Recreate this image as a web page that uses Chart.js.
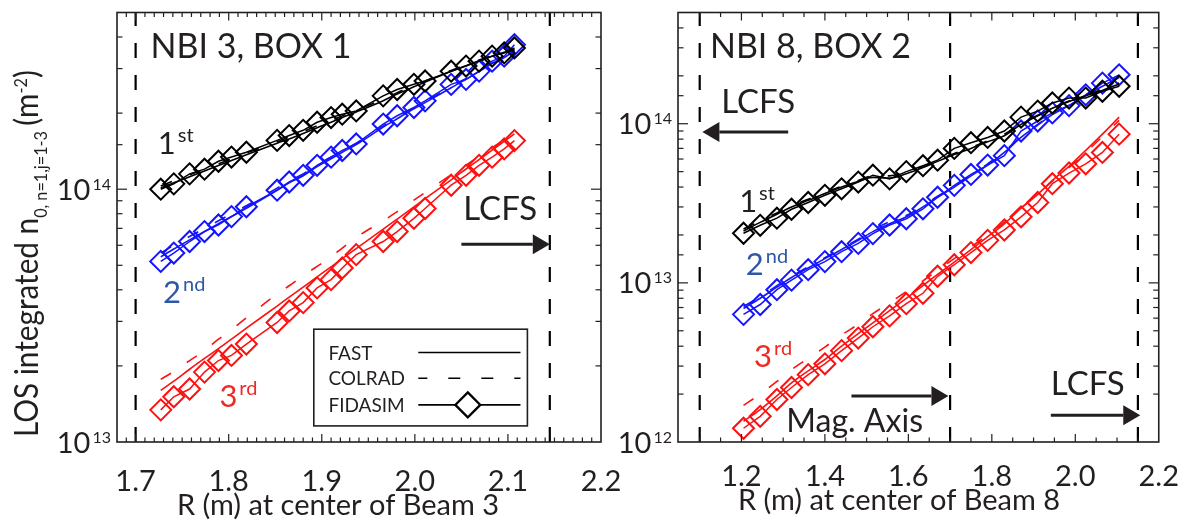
<!DOCTYPE html>
<html><head><meta charset="utf-8">
<script src="https://cdn.jsdelivr.net/npm/chart.js@4.4.1/dist/chart.umd.min.js"></script>
<style>
html,body{margin:0;padding:0;background:#fff;}
#wrap{position:relative;width:1188px;height:522px;overflow:hidden;background:#fff;}
canvas{position:absolute;top:0;}
#c1{left:0;} #c2{left:600px;}
</style></head><body>
<div id="wrap"><canvas id="c1" width="640" height="522"></canvas><canvas id="c2" width="588" height="522"></canvas></div>
<script>
const FONT = 'Lato, "Open Sans", sans-serif';
const INK = '#231f20';

// ---------- Left panel: NBI 3, BOX 1 ----------
const R3 = [1.727, 1.741, 1.758, 1.774, 1.789, 1.803, 1.819, 1.852, 1.865, 1.880, 1.895, 1.910, 1.922, 1.937, 1.966, 1.981, 1.999, 2.011, 2.039, 2.055, 2.069, 2.083, 2.096, 2.107];
const fida3_1st = [1.00e14, 1.05e14, 1.15e14, 1.20e14, 1.29e14, 1.34e14, 1.40e14, 1.56e14, 1.63e14, 1.71e14, 1.84e14, 1.92e14, 1.98e14, 2.04e14, 2.34e14, 2.48e14, 2.60e14, 2.68e14, 2.93e14, 3.07e14, 3.21e14, 3.36e14, 3.46e14, 3.62e14];
const fast3_1st = [1.01e14, 1.06e14, 1.12e14, 1.18e14, 1.24e14, 1.30e14, 1.37e14, 1.52e14, 1.58e14, 1.66e14, 1.75e14, 1.84e14, 1.92e14, 2.02e14, 2.24e14, 2.38e14, 2.54e14, 2.65e14, 2.93e14, 3.08e14, 3.22e14, 3.36e14, 3.48e14, 3.56e14];
const colrad3_1st = [1.03e14, 1.08e14, 1.14e14, 1.20e14, 1.26e14, 1.32e14, 1.39e14, 1.54e14, 1.61e14, 1.69e14, 1.78e14, 1.87e14, 1.95e14, 2.05e14, 2.27e14, 2.41e14, 2.57e14, 2.68e14, 2.95e14, 3.10e14, 3.24e14, 3.38e14, 3.50e14, 3.58e14];
const fida3_2nd = [5.18e13, 5.59e13, 6.21e13, 6.80e13, 7.22e13, 7.79e13, 8.52e13, 9.91e13, 1.068e14, 1.135e14, 1.243e14, 1.339e14, 1.423e14, 1.510e14, 1.810e14, 1.952e14, 2.105e14, 2.236e14, 2.598e14, 2.718e14, 2.932e14, 3.21e14, 3.358e14, 3.73e14];
const fast3_2nd = [5.4e13, 5.8e13, 6.3e13, 6.8e13, 7.3e13, 7.8e13, 8.4e13, 9.9e13, 1.06e14, 1.13e14, 1.23e14, 1.32e14, 1.40e14, 1.50e14, 1.76e14, 1.90e14, 2.08e14, 2.20e14, 2.52e14, 2.72e14, 2.92e14, 3.14e14, 3.32e14, 3.52e14];
const colrad3_2nd = [5.6e13, 6.0e13, 6.5e13, 7.0e13, 7.5e13, 8.0e13, 8.6e13, 1.01e14, 1.08e14, 1.15e14, 1.25e14, 1.34e14, 1.42e14, 1.52e14, 1.78e14, 1.92e14, 2.10e14, 2.22e14, 2.54e14, 2.74e14, 2.94e14, 3.16e14, 3.34e14, 3.55e14];
const fida3_3rd = [1.34e13, 1.51e13, 1.62e13, 1.89e13, 2.10e13, 2.20e13, 2.44e13, 2.97e13, 3.30e13, 3.56e13, 4.07e13, 4.39e13, 4.88e13, 5.51e13, 6.21e13, 6.80e13, 7.67e13, 8.39e13, 1.037e14, 1.135e14, 1.243e14, 1.339e14, 1.443e14, 1.557e14];
const fast3_3rd = [1.60e13, 1.74e13, 1.94e13, 2.14e13, 2.34e13, 2.55e13, 2.82e13, 3.45e13, 3.74e13, 4.10e13, 4.50e13, 4.93e13, 5.31e13, 5.82e13, 6.95e13, 7.62e13, 8.51e13, 9.17e13, 1.089e14, 1.202e14, 1.309e14, 1.428e14, 1.546e14, 1.655e14];
const colrad3_3rd = [1.77e13, 1.90e13, 2.10e13, 2.30e13, 2.55e13, 2.78e13, 3.10e13, 3.85e13, 4.15e13, 4.55e13, 4.95e13, 5.40e13, 5.85e13, 6.45e13, 7.50e13, 8.15e13, 9.05e13, 9.70e13, 1.14e14, 1.245e14, 1.35e14, 1.46e14, 1.57e14, 1.67e14];
const vlines3 = [1.70, 2.145];
const xLabels3 = ['1.7', '1.8', '1.9', '2.0', '2.1', '2.2'];
const yExp3 = [13, 14];

// ---------- Right panel: NBI 8, BOX 2 ----------
const R8 = [1.205, 1.245, 1.285, 1.32, 1.36, 1.40, 1.44, 1.48, 1.515, 1.555, 1.595, 1.635, 1.67, 1.71, 1.75, 1.79, 1.83, 1.87, 1.91, 1.945, 1.985, 2.025, 2.065, 2.105];
const fida8_1st = [2.05e13, 2.3e13, 2.55e13, 2.9e13, 3.2e13, 3.55e13, 3.9e13, 4.3e13, 4.75e13, 4.5e13, 5.0e13, 5.45e13, 5.9e13, 7.0e13, 7.6e13, 8.2e13, 9.0e13, 1.1e14, 1.2e14, 1.35e14, 1.45e14, 1.45e14, 1.6e14, 1.72e14];
const fast8_1st = [2.12e13, 2.4e13, 2.7e13, 3.0e13, 3.3e13, 3.65e13, 4.0e13, 4.35e13, 4.6e13, 4.55e13, 4.85e13, 5.3e13, 5.8e13, 6.4e13, 7.0e13, 7.7e13, 8.4e13, 9.9e13, 1.12e14, 1.25e14, 1.38e14, 1.5e14, 1.62e14, 1.78e14];
const colrad8_1st = [2.18e13, 2.45e13, 2.75e13, 3.05e13, 3.35e13, 3.7e13, 4.05e13, 4.4e13, 4.7e13, 4.7e13, 5.0e13, 5.4e13, 5.9e13, 6.5e13, 7.1e13, 7.8e13, 8.6e13, 1.0e14, 1.13e14, 1.26e14, 1.39e14, 1.52e14, 1.64e14, 1.8e14];
const fida8_2nd = [6.34e12, 7.31e12, 9.06e12, 1.04e13, 1.21e13, 1.36e13, 1.57e13, 1.77e13, 2.04e13, 2.31e13, 2.53e13, 2.92e13, 3.45e13, 4.1e13, 4.8e13, 5.5e13, 6.3e13, 9.0e13, 1.04e14, 1.17e14, 1.3e14, 1.52e14, 1.8e14, 2.03e14];
const fast8_2nd = [6.9e12, 8.0e12, 9.4e12, 1.08e13, 1.24e13, 1.42e13, 1.62e13, 1.85e13, 2.1e13, 2.35e13, 2.6e13, 3.0e13, 3.45e13, 4.0e13, 4.7e13, 5.5e13, 6.6e13, 8.2e13, 9.8e13, 1.14e14, 1.3e14, 1.5e14, 1.72e14, 1.95e14];
const colrad8_2nd = [7.1e12, 8.2e12, 9.6e12, 1.1e13, 1.26e13, 1.44e13, 1.65e13, 1.88e13, 2.15e13, 2.42e13, 2.65e13, 3.05e13, 3.5e13, 4.05e13, 4.75e13, 5.6e13, 6.7e13, 8.3e13, 9.9e13, 1.15e14, 1.31e14, 1.52e14, 1.75e14, 1.98e14];
const fida8_3rd = [1.22e12, 1.45e12, 1.85e12, 2.2e12, 2.65e12, 3.1e12, 3.75e12, 4.5e12, 5.3e12, 6.2e12, 7.4e12, 8.6e12, 1.1e13, 1.3e13, 1.55e13, 1.85e13, 2.15e13, 2.6e13, 3.2e13, 4.2e13, 4.9e13, 5.6e13, 6.6e13, 8.6e13];
const fast8_3rd = [1.35e12, 1.6e12, 1.95e12, 2.35e12, 2.8e12, 3.3e12, 4.0e12, 4.8e12, 5.6e12, 6.7e12, 8.0e12, 9.6e12, 1.13e13, 1.35e13, 1.62e13, 1.95e13, 2.35e13, 2.95e13, 3.6e13, 4.4e13, 5.4e13, 6.8e13, 8.6e13, 1.1e14];
const colrad8_3rd = [1.7e12, 2.0e12, 2.4e12, 2.85e12, 3.35e12, 3.95e12, 4.7e12, 5.5e12, 6.4e12, 7.5e12, 8.8e12, 1.03e13, 1.2e13, 1.42e13, 1.68e13, 2.0e13, 2.4e13, 2.95e13, 3.6e13, 4.35e13, 5.3e13, 6.6e13, 8.3e13, 1.05e14];
const vlines8 = [1.10, 1.70, 2.15];
const xLabels8 = ['1.2', '1.4', '1.6', '1.8', '2.0', '2.2'];
const yExp8 = [12, 13, 14];

const orderNames = [['1', 'st'], ['2', 'nd'], ['3', 'rd']];
const seriesColors = ['#000000', '#1414ff', '#ff1010'];
const labelColors = [INK, '#2e58a6', '#ee2a24'];
const legendNames = ['FAST', 'COLRAD', 'FIDASIM'];

const DASH_MODEL = [12, 19];

function xy(R, v) { return R.map((r, i) => ({x: r, y: v[i]})); }

function buildDatasets(R, groups, vlines, ymin, ymax) {
  const ds = [];
  groups.forEach((g, k) => {
    const c = seriesColors[k];
    ds.push({data: xy(R, g.fast), borderColor: c, borderWidth: 1.6, showLine: true, pointRadius: 0, cubicInterpolationMode: 'monotone'});
    ds.push({data: xy(R, g.colrad), borderColor: c, borderWidth: 1.6, borderDash: DASH_MODEL, showLine: true, pointRadius: 0, cubicInterpolationMode: 'monotone'});
    ds.push({data: xy(R, g.fida), borderColor: c, borderWidth: 1.5, showLine: true, pointStyle: 'rectRot', pointRadius: 10.5, pointBorderWidth: 2, pointBorderColor: c, pointBackgroundColor: 'rgba(0,0,0,0)'});
  });
  vlines.forEach(xv => {
    ds.push({data: [{x: xv, y: ymin}, {x: xv, y: ymax}], borderColor: '#000', borderWidth: 2.2, borderDash: [15, 17], showLine: true, pointRadius: 0});
  });
  return ds;
}

function supText(ctx, base, sup, x, y, size, supSize, raise, color) {
  ctx.fillStyle = color;
  ctx.textBaseline = 'alphabetic';
  ctx.textAlign = 'left';
  ctx.font = size + 'px ' + FONT;
  ctx.fillText(base, x, y);
  const w = ctx.measureText(base).width;
  ctx.font = supSize + 'px ' + FONT;
  ctx.fillText(sup, x + w + 2, y - raise);
}

function arrow(ctx, x0, x1, y) {
  const dir = x1 > x0 ? 1 : -1;
  const head = 17, half = 10;
  ctx.strokeStyle = INK; ctx.fillStyle = INK; ctx.lineWidth = 3;
  ctx.beginPath(); ctx.moveTo(x0, y); ctx.lineTo(x1 - dir * head, y); ctx.stroke();
  ctx.beginPath(); ctx.moveTo(x1, y); ctx.lineTo(x1 - dir * head, y - half); ctx.lineTo(x1 - dir * head, y + half); ctx.closePath(); ctx.fill();
}

function panelPlugin(cfg) {
  return {
    id: 'panel' + cfg.id,
    afterDraw(chart) {
      const ctx = chart.ctx, ca = chart.chartArea, xs = chart.scales.x, ys = chart.scales.y;
      ctx.save();
      ctx.strokeStyle = INK; ctx.lineWidth = 1.2;
      const ln = (a, b, c, d) => { ctx.beginPath(); ctx.moveTo(a, b); ctx.lineTo(c, d); ctx.stroke(); };
      xs.ticks.forEach(t => {
        const px = xs.getPixelForValue(t.value);
        if (px < ca.left + 1 || px > ca.right - 1) return;
        const major = cfg.xLabels.includes(t.value.toFixed(1)) && Math.abs(t.value * 10 - Math.round(t.value * 10)) < 1e-6;
        const L = major ? 8 : 4.5;
        ln(px, ca.bottom, px, ca.bottom - L);
        ln(px, ca.top, px, ca.top + L);
      });
      ys.ticks.forEach(t => {
        const py = ys.getPixelForValue(t.value);
        if (py < ca.top + 1 || py > ca.bottom - 1) return;
        const e = Math.log10(t.value);
        const major = Math.abs(e - Math.round(e)) < 1e-9;
        const L = major ? 10 : 5.5;
        ln(ca.left, py, ca.left + L, py);
        ln(ca.right, py, ca.right - L, py);
      });
      ctx.lineWidth = 1.6;
      ctx.strokeRect(ca.left, ca.top, ca.right - ca.left, ca.bottom - ca.top);
      // y tick labels with superscript exponents
      ys.ticks.forEach(t => {
        const e = Math.log10(t.value);
        const ex = Math.round(e);
        if (Math.abs(e - ex) > 1e-9 || !cfg.yExp.includes(ex)) return;
        const py = ys.getPixelForValue(t.value);
        ctx.font = '29px ' + FONT; const wb = ctx.measureText('10').width;
        ctx.font = '16px ' + FONT; const ws = ctx.measureText(String(ex)).width;
        const x0 = ca.left - 6 - ws - wb - 2;
        supText(ctx, '10', String(ex), x0, py + 10.5, 29, 16, 10, INK);
      });
      // x axis title
      ctx.fillStyle = INK; ctx.font = '29px ' + FONT; ctx.textAlign = 'center'; ctx.textBaseline = 'alphabetic';
      ctx.fillText(cfg.xTitle, ca.left + 221, cfg.xTitleBase);
      // y axis title (rotated, with sub/superscripts), slightly condensed
      if (cfg.yTitle) {
        ctx.save();
        ctx.translate(38, 437);
        ctx.rotate(-Math.PI / 2);
        ctx.scale(0.9, 1);
        ctx.textAlign = 'left'; ctx.textBaseline = 'alphabetic'; ctx.fillStyle = INK;
        let u = 0;
        cfg.yTitle.forEach(p => {
          ctx.font = p.size + 'px ' + FONT;
          ctx.fillText(p.t, u, p.dy);
          u += ctx.measureText(p.t).width + (p.gap || 0);
        });
        ctx.restore();
      }
      ctx.textAlign = 'left'; ctx.textBaseline = 'alphabetic';
      cfg.texts.forEach(tx => {
        ctx.fillStyle = INK; ctx.font = tx.size + 'px ' + FONT;
        ctx.fillText(tx.t, xs.getPixelForValue(tx.x), ys.getPixelForValue(tx.y));
      });
      cfg.arrows.forEach(a => arrow(ctx, xs.getPixelForValue(a.x0), xs.getPixelForValue(a.x1), ys.getPixelForValue(a.y)));
      cfg.orders.forEach((o, k) => {
        supText(ctx, orderNames[k][0], orderNames[k][1], xs.getPixelForValue(o.x), ys.getPixelForValue(o.y), 31, 20, 12, labelColors[k]);
      });
      if (cfg.legend) {
        const bx = ca.left + 196.8, by = ca.top + 316.7, bw = 213.6, bh = 96.7;
        ctx.fillStyle = '#fff'; ctx.fillRect(bx, by, bw, bh);
        ctx.strokeStyle = INK; ctx.lineWidth = 1.6; ctx.strokeRect(bx, by, bw, bh);
        const rows = [23.3, 49, 75.7];
        legendNames.forEach((nm, i) => {
          const yy = by + rows[i];
          ctx.fillStyle = INK; ctx.font = '19px ' + FONT; ctx.textBaseline = 'middle'; ctx.textAlign = 'left';
          ctx.fillText(nm, bx + 14.6, yy + 1);
          ctx.strokeStyle = '#000'; ctx.lineWidth = 1.6;
          ctx.setLineDash(i === 1 ? [12, 21] : []);
          ctx.lineDashOffset = i === 1 ? 3 : 0;
          ln(bx + 104.5, yy, bx + 206.7, yy);
          ctx.setLineDash([]);
          if (i === 2) {
            const cx = bx + 154, r = 12.5;
            ctx.lineWidth = 2.3;
            ctx.beginPath(); ctx.moveTo(cx, yy - r); ctx.lineTo(cx + r, yy); ctx.lineTo(cx, yy + r); ctx.lineTo(cx - r, yy); ctx.closePath();
            ctx.fillStyle = '#fff'; ctx.fill(); ctx.stroke();
          }
        });
      }
      ctx.restore();
    }
  };
}

function makeChart(id, cfg) {
  return new Chart(document.getElementById(id), {
    type: 'scatter',
    data: {datasets: cfg.datasets},
    options: {
      responsive: false, animation: false, events: [],
      layout: {padding: cfg.padding},
      plugins: {legend: {display: false}, tooltip: {enabled: false}},
      scales: {
        x: {type: 'linear', min: cfg.xmin, max: cfg.xmax,
            grid: {display: false}, border: {display: false},
            ticks: {stepSize: cfg.xstep, autoSkip: false, maxRotation: 0, minRotation: 0, padding: cfg.tickPad, color: INK,
                    font: {family: FONT, size: 29},
                    callback: v => { const s = Number(v).toFixed(1); return (Math.abs(v * 10 - Math.round(v * 10)) < 1e-6 && cfg.xLabels.includes(s)) ? s : ''; }},
            afterFit: s => { s.height = 80; }},
        y: {type: 'logarithmic', min: cfg.ymin, max: cfg.ymax,
            grid: {display: false}, border: {display: false}, ticks: {display: false},
            afterFit: s => { s.width = cfg.yWidth; }}
      }
    },
    plugins: [panelPlugin(cfg)]
  });
}

makeChart('c1', {
  id: 1, xmin: 1.68, xmax: 2.2, xstep: 0.01, ymin: 1e13, ymax: 5e14,
  padding: {left: 0, top: 9, right: 39, bottom: 0}, yWidth: 117, tickPad: 14,
  xLabels: xLabels3, yExp: yExp3,
  datasets: buildDatasets(R3, [
    {fast: fast3_1st, colrad: colrad3_1st, fida: fida3_1st},
    {fast: fast3_2nd, colrad: colrad3_2nd, fida: fida3_2nd},
    {fast: fast3_3rd, colrad: colrad3_3rd, fida: fida3_3rd}], vlines3, 1e13, 5e14),
  xTitle: 'R (m) at center of Beam 3', xTitleBase: 515,
  yTitle: [
    {t: 'LOS integrated n', size: 33, dy: 0},
    {t: '0, n=1,j=1-3', size: 18, dy: 9, gap: 6},
    {t: '(m', size: 33, dy: 0},
    {t: '-2', size: 18, dy: -11},
    {t: ')', size: 33, dy: 0}],
  texts: [{t: 'NBI 3, BOX 1', x: 1.716, y: 3.307e14, size: 34}, {t: 'LCFS', x: 2.052, y: 7.58e13, size: 33}],
  arrows: [{x0: 2.050, x1: 2.145, y: 6.06e13}],
  orders: [{x: 1.7239, y: 1.38e14}, {x: 1.7295, y: 3.555e13}, {x: 1.790, y: 1.376e13}],
  legend: true
});

makeChart('c2', {
  id: 2, xmin: 1.048, xmax: 2.2, xstep: 0.05, ymin: 1e12, ymax: 5e14,
  padding: {left: 0, top: 9, right: 25, bottom: 0}, yWidth: 78, tickPad: 9,
  xLabels: xLabels8, yExp: yExp8,
  datasets: buildDatasets(R8, [
    {fast: fast8_1st, colrad: colrad8_1st, fida: fida8_1st},
    {fast: fast8_2nd, colrad: colrad8_2nd, fida: fida8_2nd},
    {fast: fast8_3rd, colrad: colrad8_3rd, fida: fida8_3rd}], vlines8, 1e12, 5e14),
  xTitle: 'R (m) at center of Beam 8', xTitleBase: 510,
  yTitle: null,
  texts: [{t: 'NBI 8, BOX 2', x: 1.1245, y: 2.578e14, size: 34}, {t: 'LCFS', x: 1.1514, y: 1.171e14, size: 33},
          {t: 'Mag. Axis', x: 1.3076, y: 1.154e12, size: 32}, {t: 'LCFS', x: 1.9414, y: 1.963e12, size: 33}],
  arrows: [{x0: 1.312, x1: 1.1064, y: 8.88e13}, {x0: 1.4636, x1: 1.696, y: 1.943e12}, {x0: 1.9414, x1: 2.1557, y: 1.473e12}],
  orders: [{x: 1.1945, y: 2.79e13}, {x: 1.2105, y: 1.125e13}, {x: 1.2302, y: 2.946e12}],
  legend: false
});
</script>
</body></html>
